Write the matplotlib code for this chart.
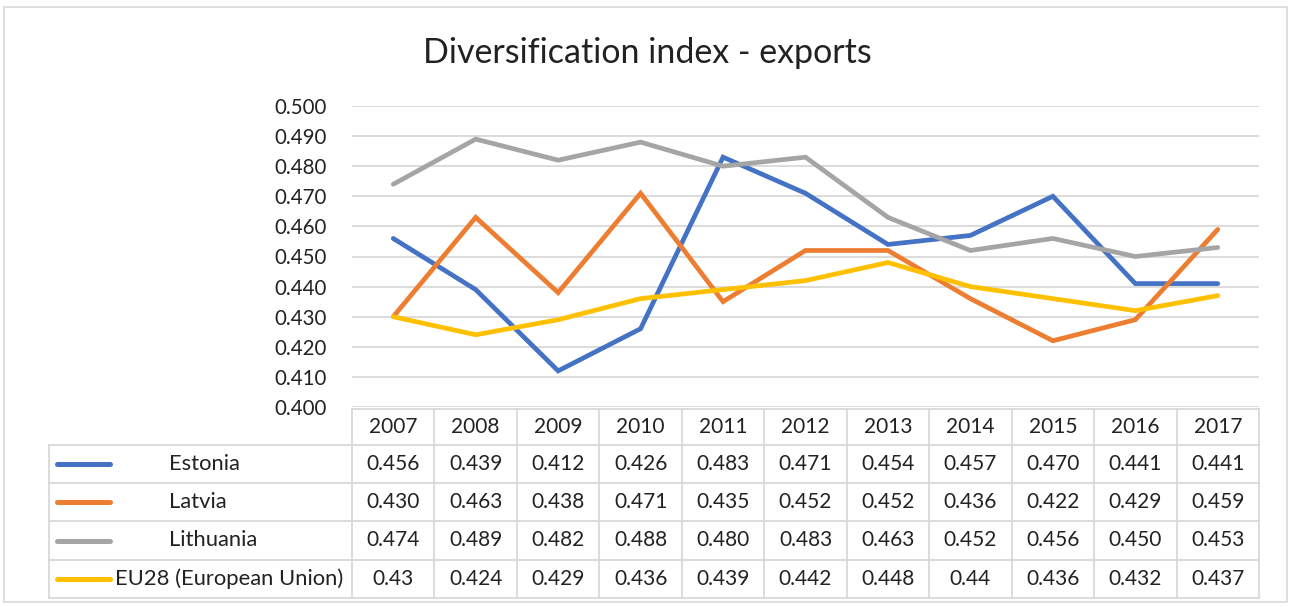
import matplotlib
matplotlib.use("Agg")
import matplotlib.pyplot as plt
from matplotlib.transforms import blended_transform_factory
from matplotlib.patches import Rectangle

years = ["2007", "2008", "2009", "2010", "2011", "2012", "2013", "2014", "2015", "2016", "2017"]
series_names = ["Estonia", "Latvia", "Lithuania", "EU28 (European Union)"]
estonia = [0.456, 0.439, 0.412, 0.426, 0.483, 0.471, 0.454, 0.457, 0.470, 0.441, 0.441]
latvia = [0.430, 0.463, 0.438, 0.471, 0.435, 0.452, 0.452, 0.436, 0.422, 0.429, 0.459]
lithuania = [0.474, 0.489, 0.482, 0.488, 0.480, 0.483, 0.463, 0.452, 0.456, 0.450, 0.453]
eu28 = [0.43, 0.424, 0.429, 0.436, 0.439, 0.442, 0.448, 0.44, 0.436, 0.432, 0.437]
eu28_labels = ["0.43", "0.424", "0.429", "0.436", "0.439", "0.442", "0.448", "0.44", "0.436", "0.432", "0.437"]
yticks = [0.400, 0.410, 0.420, 0.430, 0.440, 0.450, 0.460, 0.470, 0.480, 0.490, 0.500]

colors = ["#4472C4", "#ED7D31", "#A5A5A5", "#FFC000"]
grid_c = "#D9D9D9"
font = ["Lato", "DejaVu Sans"]
plt.rcParams["font.family"] = font

W, H = 1294, 607
fig = plt.figure(figsize=(W / 100, H / 100), dpi=100)


def fx(x):
    return x / W


def fy(y):
    return 1 - y / H


# outer chart border
fig.patches.append(Rectangle((fx(4), fy(602)), fx(1287) - fx(4), fy(7) - fy(602),
                             transform=fig.transFigure, fill=False,
                             edgecolor=grid_c, linewidth=1.2))

ax_l, ax_r, ax_t, ax_b = 352, 1259, 106, 407
ax = fig.add_axes([fx(ax_l), fy(ax_b), fx(ax_r) - fx(ax_l), fy(ax_t) - fy(ax_b)])
ax.set_xlim(-0.5, len(years) - 0.5)
ax.set_ylim(0.400, 0.500)
ax.set_yticks(yticks)
ax.set_yticklabels([f"{v:.3f}" for v in yticks], fontsize=14.8, color="#222222")
ax.set_xticks([])
ax.tick_params(axis="y", length=0, pad=18)
for s in ax.spines.values():
    s.set_visible(False)
ax.grid(axis="y", color=grid_c, linewidth=1.3)
ax.set_axisbelow(True)

x = list(range(len(years)))
all_series = [estonia, latvia, lithuania, eu28]
for vals, c in zip(all_series, colors):
    ax.plot(x, vals, color=c, linewidth=3.4, solid_capstyle="round",
            solid_joinstyle="miter", clip_on=False)

fig.text(0.5, fy(53), "Diversification index - exports", ha="center", va="center",
         fontsize=24.5, color="#222222")

# data table beneath the plot
tr = blended_transform_factory(ax.transData, fig.transFigure)
row_edges = [409, 445, 483, 521, 560, 598]
tbl_left = 49
lw_t = 1.3
n = len(years)

# horizontal rules
fig.add_artist(plt.Line2D([-0.5, n - 0.5], [fy(row_edges[0])] * 2, transform=tr,
                          color=grid_c, linewidth=lw_t))
for ye in row_edges[1:]:
    fig.add_artist(plt.Line2D([fx(tbl_left), fx(ax_r)], [fy(ye)] * 2,
                              transform=fig.transFigure, color=grid_c, linewidth=lw_t))
# vertical rules
for i in range(n + 1):
    fig.add_artist(plt.Line2D([i - 0.5, i - 0.5], [fy(row_edges[0]), fy(row_edges[-1])],
                              transform=tr, color=grid_c, linewidth=lw_t))
fig.add_artist(plt.Line2D([fx(tbl_left)] * 2, [fy(row_edges[1]), fy(row_edges[-1])],
                          transform=fig.transFigure, color=grid_c, linewidth=lw_t))

fs = 15
hc = (row_edges[0] + row_edges[1]) / 2
for i, yr in enumerate(years):
    fig.text(i, fy(hc), yr, transform=tr, ha="center", va="center", fontsize=fs, color="#222222")

table_labels = [[f"{v:.3f}" for v in estonia], [f"{v:.3f}" for v in latvia],
                [f"{v:.3f}" for v in lithuania], eu28_labels]
label_x = [169, 169, 169, 115]
for r in range(4):
    yc = (row_edges[r + 1] + row_edges[r + 2]) / 2
    fig.add_artist(plt.Line2D([fx(57), fx(110)], [fy(yc)] * 2, transform=fig.transFigure,
                              color=colors[r], linewidth=3.6, solid_capstyle="round"))
    fig.text(fx(label_x[r]), fy(yc), series_names[r], ha="left", va="center",
             fontsize=15.8, color="#222222")
    for i, lab in enumerate(table_labels[r]):
        fig.text(i, fy(yc), lab, transform=tr, ha="center", va="center",
                 fontsize=fs, color="#222222")

fig.savefig("out.png", dpi=100, facecolor="white")
